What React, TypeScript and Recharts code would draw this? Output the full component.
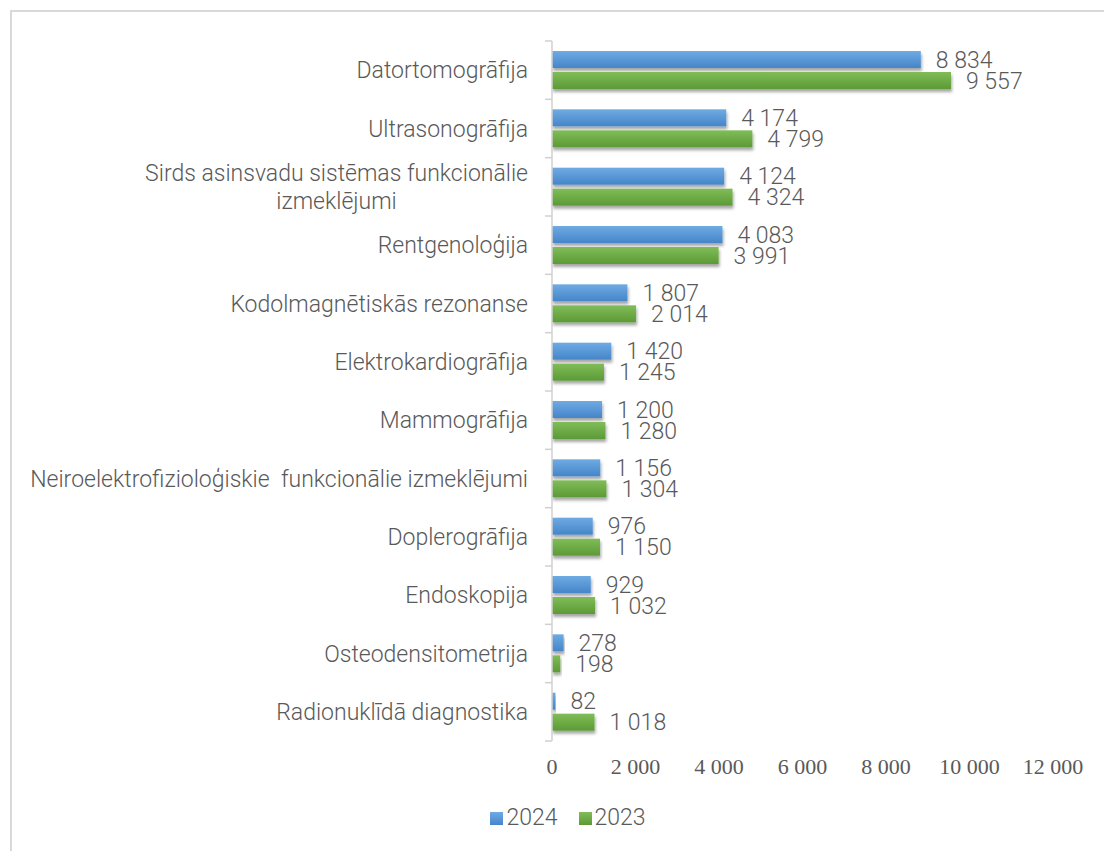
import React from 'react';
import { BarChart, Bar, XAxis, YAxis, Legend, LabelList } from 'recharts';

const categories = [
  'Datortomogrāfija',
  'Ultrasonogrāfija',
  'Sirds asinsvadu sistēmas funkcionālie\nizmeklējumi',
  'Rentgenoloģija',
  'Kodolmagnētiskās rezonanse',
  'Elektrokardiogrāfija',
  'Mammogrāfija',
  'Neiroelektrofizioloģiskie  funkcionālie izmeklējumi',
  'Doplerogrāfija',
  'Endoskopija',
  'Osteodensitometrija',
  'Radionuklīdā diagnostika',
];
const values2024 = [8834, 4174, 4124, 4083, 1807, 1420, 1200, 1156, 976, 929, 278, 82];
const values2023 = [9557, 4799, 4324, 3991, 2014, 1245, 1280, 1304, 1150, 1032, 198, 1018];
const xTicks = [0, 2000, 4000, 6000, 8000, 10000, 12000];
const seriesNames = ['2024', '2023'];
const seriesColors = ['#5b9bd5', '#70ad47'];

const data = categories.map((c, i) => ({ name: c, v2024: values2024[i], v2023: values2023[i] }));

const W = 1104;
const H = 851;
const MARGIN = { top: 41, right: 51, left: 0, bottom: 46 };
const X_AXIS_H = 34;
const LEGEND_H = 30;
const PLOT_H = H - MARGIN.top - MARGIN.bottom - X_AXIS_H - LEGEND_H;
const FONT = 'Roboto, "Noto Sans", sans-serif';
const LABEL_SIZE = 23;
const TEXT_COLOR = '#595959';
const WEIGHT = 300;

const fmt = (v: any) => String(v).replace(/\B(?=(\d{3})+(?!\d))/g, ' ');

let canvasCtx: CanvasRenderingContext2D | null = null;
const measure = (t: string) => {
  if (typeof document === 'undefined') return t.length * 11;
  if (!canvasCtx) canvasCtx = document.createElement('canvas').getContext('2d');
  if (!canvasCtx) return t.length * 11;
  canvasCtx.font = `${WEIGHT} ${LABEL_SIZE}px Roboto`;
  return canvasCtx.measureText(t).width;
};

const CategoryTick = (props: any) => {
  const { x, y, payload, index } = props;
  const lines = String(payload.value).split('\n');
  const step = PLOT_H / categories.length;
  const tickX1 = x + 17;
  const tickX2 = x + 24;
  const common: any = { fill: TEXT_COLOR, fontSize: LABEL_SIZE, fontFamily: FONT, fontWeight: WEIGHT };
  return (
    <g>
      <line x1={tickX1} x2={tickX2} y1={y - step / 2} y2={y - step / 2} stroke="#d0d0d0" strokeWidth={1.5} />
      {index === categories.length - 1 && (
        <line x1={tickX1} x2={tickX2} y1={y + step / 2} y2={y + step / 2} stroke="#d0d0d0" strokeWidth={1.5} />
      )}
      {lines.length === 1 ? (
        <text x={x} y={y} dy="0.35em" textAnchor="end" {...common} style={{ whiteSpace: 'pre' }}>
          {lines[0]}
        </text>
      ) : (
        <g>
          <text x={x} y={y - 14} dy="0.35em" textAnchor="end" {...common}>
            {lines[0]}
          </text>
          <text x={x - measure(lines[0]) / 2} y={y + 14} dy="0.35em" textAnchor="middle" {...common}>
            {lines[1]}
          </text>
        </g>
      )}
    </g>
  );
};

const ShadowBar = (props: any) => {
  const { x, y, width, height, fill } = props;
  if (!width || width <= 0) return null;
  return <rect x={x} y={y} width={width} height={height} fill={fill} filter="url(#barShadow)" />;
};

const LegendContent = () => {
  return (
    <div
      style={{
        display: 'flex',
        justifyContent: 'center',
        alignItems: 'center',
        fontFamily: FONT,
        fontWeight: WEIGHT,
        fontSize: LABEL_SIZE,
        color: TEXT_COLOR,
        lineHeight: '30px',
      }}
    >
      {seriesNames.map((n, i) => (
        <div key={n} style={{ display: 'flex', alignItems: 'center', marginRight: i === 0 ? 21 : 0 }}>
          <div
            style={{
              width: 13,
              height: 13,
              background: `linear-gradient(${i === 0 ? '#6fabe3, #4585c9' : '#80bd58, #5c9a36'})`,
              backgroundColor: seriesColors[i],
              marginRight: 3,
            }}
          />
          <span>{n}</span>
        </div>
      ))}
    </div>
  );
};

export default function App() {
  return (
    <div style={{ position: 'absolute', left: 0, top: 0, width: W, height: H, background: '#fff' }}>
      <div
        style={{
          position: 'absolute',
          left: 10,
          top: 10,
          width: W,
          height: H,
          borderLeft: '2px solid #d9d9d9',
          borderTop: '2px solid #d9d9d9',
        }}
      />
      <div style={{ position: 'absolute', left: 0, top: 0 }}>
        <BarChart width={W} height={H} data={data} layout="vertical" margin={MARGIN} barSize={17} barGap={4}>
          <defs>
            <linearGradient id="gBlue" x1="0" y1="0" x2="0" y2="1">
              <stop offset="0%" stopColor="#6fabe3" />
              <stop offset="100%" stopColor="#4585c9" />
            </linearGradient>
            <linearGradient id="gGreen" x1="0" y1="0" x2="0" y2="1">
              <stop offset="0%" stopColor="#80bd58" />
              <stop offset="100%" stopColor="#5c9a36" />
            </linearGradient>
            <filter id="barShadow" x="-5%" y="-20%" width="115%" height="170%">
              <feDropShadow dx="1" dy="3" stdDeviation="1.8" floodColor="#000" floodOpacity="0.35" />
            </filter>
          </defs>
          <XAxis
            type="number"
            domain={[0, 12000]}
            ticks={xTicks}
            tickFormatter={fmt}
            axisLine={false}
            tickLine={false}
            height={X_AXIS_H}
            tickMargin={11}
            tick={{ fill: TEXT_COLOR, fontSize: 22, fontFamily: '"Liberation Serif", "Times New Roman", serif' }}
          />
          <YAxis
            type="category"
            dataKey="name"
            width={552}
            axisLine={{ stroke: '#d0d0d0', strokeWidth: 1.5 }}
            tickLine={false}
            tickSize={0}
            tickMargin={24}
            interval={0}
            tick={<CategoryTick />}
          />
          <Legend
            verticalAlign="bottom"
            height={LEGEND_H}
            content={<LegendContent />}
            wrapperStyle={{ left: 36, width: 1064, top: 803, bottom: 'auto' }}
          />
          <Bar dataKey="v2024" name={seriesNames[0]} fill="url(#gBlue)" shape={<ShadowBar />} isAnimationActive={false}>
            <LabelList
              dataKey="v2024"
              position="right"
              offset={15}
              formatter={fmt}
              fill={TEXT_COLOR}
              fontSize={LABEL_SIZE}
              fontFamily={FONT}
              fontWeight={WEIGHT}
            />
          </Bar>
          <Bar dataKey="v2023" name={seriesNames[1]} fill="url(#gGreen)" shape={<ShadowBar />} isAnimationActive={false}>
            <LabelList
              dataKey="v2023"
              position="right"
              offset={15}
              formatter={fmt}
              fill={TEXT_COLOR}
              fontSize={LABEL_SIZE}
              fontFamily={FONT}
              fontWeight={WEIGHT}
            />
          </Bar>
        </BarChart>
      </div>
    </div>
  );
}
